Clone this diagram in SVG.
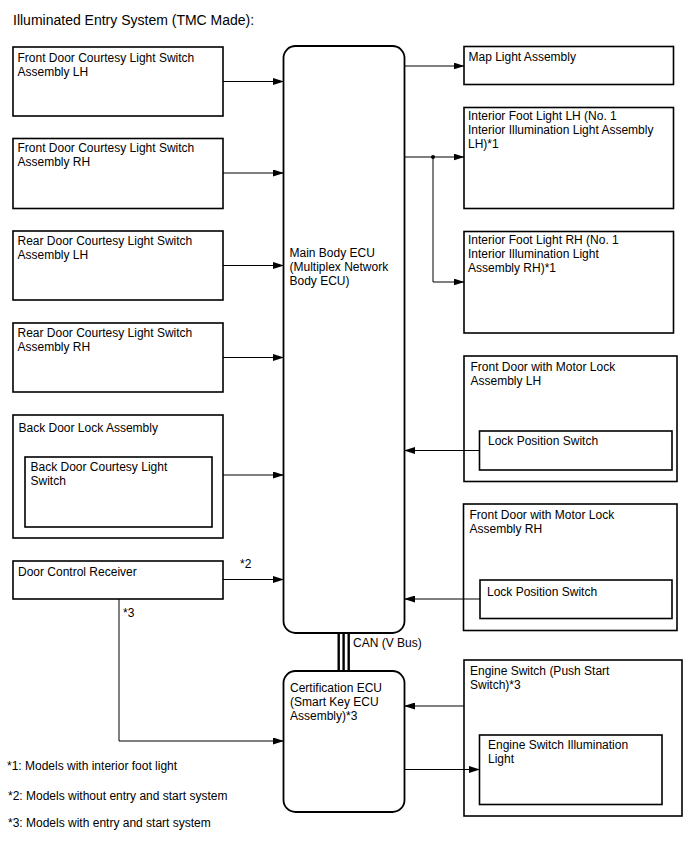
<svg xmlns="http://www.w3.org/2000/svg" width="688" height="852" viewBox="0 0 688 852">
<defs>
<marker id="arr" markerUnits="userSpaceOnUse" markerWidth="11" markerHeight="7" refX="10.5" refY="3.5" orient="auto">
<path d="M0,0 L11,3.5 L0,7 z" fill="#000"/>
</marker>
<style>
text{font-family:"Liberation Sans",Arial,sans-serif;font-size:12px;fill:#000}
.title{font-size:14px}
.box{fill:#fff;stroke:#000;stroke-width:1.6}
.ecu{fill:#fff;stroke:#000;stroke-width:1.8}
.con{fill:none;stroke:#000;stroke-width:1}
.can{fill:none;stroke:#000;stroke-width:2.4}
</style>
</defs>
<rect width="688" height="852" fill="#fff"/>
<text class="title" x="13" y="25">Illuminated Entry System (TMC Made):</text>

<g id="fdcls-lh"><rect class="box" x="13" y="47" width="210" height="69"/><text x="17.5" y="61.5">Front Door Courtesy Light Switch</text><text x="17.5" y="75.5">Assembly LH</text></g>
<g id="fdcls-rh"><rect class="box" x="13" y="138.5" width="210" height="70"/><text x="17.5" y="152">Front Door Courtesy Light Switch</text><text x="17.5" y="166">Assembly RH</text></g>
<g id="rdcls-lh"><rect class="box" x="13" y="231" width="210" height="69"/><text x="17.5" y="244.5">Rear Door Courtesy Light Switch</text><text x="17.5" y="258.5">Assembly LH</text></g>
<g id="rdcls-rh"><rect class="box" x="13" y="323" width="210" height="69"/><text x="17.5" y="336.5">Rear Door Courtesy Light Switch</text><text x="17.5" y="350.5">Assembly RH</text></g>
<g id="back-door-lock"><rect class="box" x="13" y="415" width="210" height="123"/><text x="18.5" y="431.5">Back Door Lock Assembly</text>
<g id="back-door-switch"><rect class="box" x="25" y="457" width="187" height="70"/><text x="30.5" y="470.5">Back Door Courtesy Light</text><text x="30.5" y="484.5">Switch</text></g></g>
<g id="door-control-receiver"><rect class="box" x="13" y="561" width="210" height="38"/><text x="18" y="575.5">Door Control Receiver</text></g>

<g id="main-body-ecu"><rect class="ecu" x="283.5" y="46" width="121" height="587" rx="12"/><text x="289.5" y="257">Main Body ECU</text><text x="289.5" y="271">(Multiplex Network</text><text x="289.5" y="285">Body ECU)</text></g>
<g id="certification-ecu"><rect class="ecu" x="283.5" y="671" width="121" height="141" rx="12"/><text x="290" y="692">Certification ECU</text><text x="290" y="706">(Smart Key ECU</text><text x="290" y="720">Assembly)*3</text></g>

<g id="map-light"><rect class="box" x="464" y="46.5" width="209.5" height="38"/><text x="468.5" y="61">Map Light Assembly</text></g>
<g id="foot-light-lh"><rect class="box" x="464" y="107.5" width="209.5" height="101"/><text x="468" y="120">Interior Foot Light LH (No. 1</text><text x="468" y="134">Interior Illumination Light Assembly</text><text x="468" y="148">LH)*1</text></g>
<g id="foot-light-rh"><rect class="box" x="464" y="231.5" width="209.5" height="101.5"/><text x="468" y="244">Interior Foot Light RH (No. 1</text><text x="468" y="258">Interior Illumination Light</text><text x="468" y="272">Assembly RH)*1</text></g>
<g id="front-door-lh"><rect class="box" x="464" y="356" width="213" height="125.5"/><text x="470.5" y="371">Front Door with Motor Lock</text><text x="470.5" y="385">Assembly LH</text>
<g id="lock-switch-lh"><rect class="box" x="479.5" y="431" width="192.5" height="39"/><text x="488" y="445">Lock Position Switch</text></g></g>
<g id="front-door-rh"><rect class="box" x="463.5" y="504" width="213.5" height="126.5"/><text x="469.5" y="519">Front Door with Motor Lock</text><text x="469.5" y="533">Assembly RH</text>
<g id="lock-switch-rh"><rect class="box" x="480" y="580" width="192" height="38.5"/><text x="487" y="595.5">Lock Position Switch</text></g></g>
<g id="engine-switch"><rect class="box" x="464" y="660" width="218" height="156"/><text x="470" y="675">Engine Switch (Push Start</text><text x="470" y="689">Switch)*3</text>
<g id="engine-switch-light"><rect class="box" x="479.5" y="735" width="182.5" height="69.5"/><text x="488" y="749">Engine Switch Illumination</text><text x="488" y="763">Light</text></g></g>

<g id="connectors">
<line class="con" x1="223" y1="81.5" x2="283.5" y2="81.5" marker-end="url(#arr)"/>
<line class="con" x1="223" y1="173" x2="283.5" y2="173" marker-end="url(#arr)"/>
<line class="con" x1="223" y1="265.5" x2="283.5" y2="265.5" marker-end="url(#arr)"/>
<line class="con" x1="223" y1="357.5" x2="283.5" y2="357.5" marker-end="url(#arr)"/>
<line class="con" x1="223" y1="475" x2="283.5" y2="475" marker-end="url(#arr)"/>
<line class="con" x1="223" y1="579.5" x2="283.5" y2="579.5" marker-end="url(#arr)"/>
<line class="con" x1="404.5" y1="66" x2="464" y2="66" marker-end="url(#arr)"/>
<line class="con" x1="404.5" y1="157" x2="464" y2="157" marker-end="url(#arr)"/>
<polyline class="con" points="433,157 433,282 464,282" marker-end="url(#arr)"/>
<circle cx="433" cy="157" r="2" fill="#000"/>
<line class="con" x1="479.5" y1="450.5" x2="404.5" y2="450.5" marker-end="url(#arr)"/>
<line class="con" x1="480" y1="599" x2="404.5" y2="599" marker-end="url(#arr)"/>
<line class="con" x1="464" y1="706" x2="404.5" y2="706" marker-end="url(#arr)"/>
<line class="con" x1="404.5" y1="769.5" x2="479.5" y2="769.5" marker-end="url(#arr)"/>
<polyline class="con" points="119,599 119,741 283.5,741" marker-end="url(#arr)"/>
<line class="can" x1="338.7" y1="633" x2="338.7" y2="671"/>
<line class="can" x1="343.6" y1="633" x2="343.6" y2="671"/>
<line class="can" x1="348.7" y1="633" x2="348.7" y2="671"/>
<text x="353" y="646.5">CAN (V Bus)</text>
<text x="240" y="568">*2</text>
<text x="123" y="616.5">*3</text>
</g>

<text x="7" y="770">*1: Models with interior foot light</text>
<text x="8" y="800">*2: Models without entry and start system</text>
<text x="8" y="827">*3: Models with entry and start system</text>
</svg>
